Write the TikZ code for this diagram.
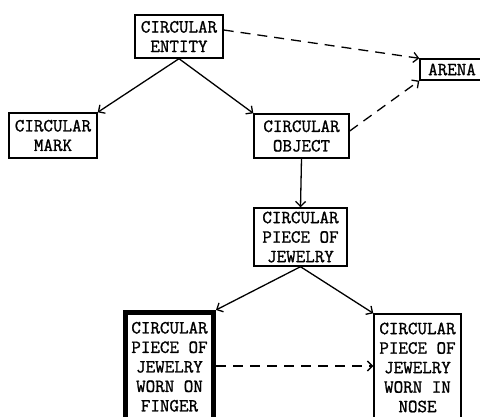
\documentclass[tikz,border=0pt]{standalone}
\usepackage{fontspec}
\newfontfamily\typer[FakeBold=1.2]{Latin Modern Mono}
\usetikzlibrary{arrows.meta}
\tikzset{
  box/.style={draw, line width=1.4pt, inner sep=0pt, align=center,
    font=\typer\bfseries\fontsize{18.5}{19.5}\selectfont},
  link/.style={line width=1.3pt, -{Straight Barb[length=5pt,width=10pt]}},
  dlink/.style={link, dash pattern=on 10pt off 7pt},
}
\begin{document}
\begin{tikzpicture}[x=1pt,y=-1pt]
\useasboundingbox (0,0) rectangle (480,417);
\clip (0,0) rectangle (480,417);
\node[box, minimum width=88pt, minimum height=43pt] (ent) at (179,36.5) {CIRCULAR\\ENTITY};
\node[box, minimum width=64pt, minimum height=21pt] (arena) at (452,69.5) {ARENA};
\node[box, minimum width=88pt, minimum height=45pt] (mark) at (53,135.5) {CIRCULAR\\MARK};
\node[box, minimum width=95pt, minimum height=44pt] (obj) at (301.5,136) {CIRCULAR\\OBJECT};
\node[box, minimum width=93pt, minimum height=58pt] (jew) at (300.5,237) {CIRCULAR\\PIECE OF\\JEWELRY};
\node[box, line width=5pt, minimum width=88pt, minimum height=108.5pt] (fin) at (169.5,366.75) {CIRCULAR\\PIECE OF\\JEWELRY\\WORN ON\\FINGER};
\node[box, minimum width=87pt, minimum height=107pt] (nose) at (417.5,367.5) {CIRCULAR\\PIECE OF\\JEWELRY\\WORN IN\\NOSE};
\draw[link] (ent.south) -- (mark.north east);
\draw[link] (ent.south) -- (obj.north west);
\draw[dlink] ([yshift=6.5pt]ent.east) -- (arena.north west);
\draw[dlink] ([yshift=5pt]obj.east) -- (arena.south west);
\draw[link] (obj.south) -- (jew.north);
\draw[link] (jew.south) -- (fin.north east);
\draw[link] (jew.south) -- (nose.north west);
\draw[dlink] ([yshift=0.75pt]fin.east) -- ([yshift=1.5pt]nose.west);
\end{tikzpicture}
\end{document}
